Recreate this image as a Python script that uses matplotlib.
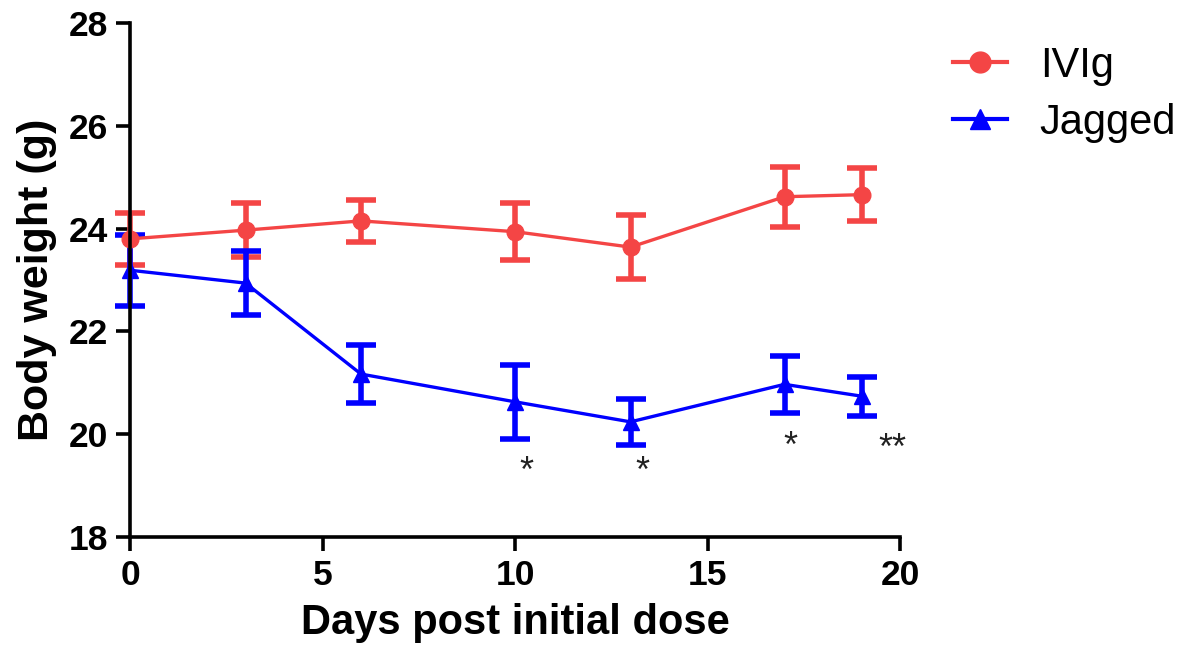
import matplotlib
matplotlib.use("Agg")
import matplotlib.pyplot as plt
from matplotlib.lines import Line2D

days = [0, 3, 6, 10, 13, 17, 19]
ivig_mean = [23.80, 23.97, 24.15, 23.94, 23.64, 24.62, 24.66]
ivig_err = [0.50, 0.52, 0.41, 0.55, 0.63, 0.58, 0.51]
jag_mean = [23.19, 22.94, 21.17, 20.63, 20.24, 20.97, 20.74]
jag_err = [0.69, 0.63, 0.57, 0.72, 0.45, 0.55, 0.38]

sig_x = [10.3, 13.3, 17.15, 19.8]
sig_y = [19.44, 19.44, 19.93, 19.89]
sig_text = ["*", "*", "*", "**"]

red = "#F44545"
blue = "#0000FF"
plt.rcParams['font.family'] = ['Liberation Sans', 'DejaVu Sans']

fig = plt.figure(figsize=(11.79, 6.57), dpi=100)
ax = fig.add_axes([130/1179, 1-537/657, 770/1179, 514/657])

ax.errorbar(days, ivig_mean, yerr=ivig_err, color=red, marker='o', markersize=12,
            linewidth=2.4, elinewidth=4, capsize=11, capthick=4, clip_on=False)
ax.errorbar(days, jag_mean, yerr=jag_err, color=blue, marker='^', markersize=12,
            linewidth=2.4, elinewidth=4, capsize=11, capthick=4, clip_on=False)

for x, y, t in zip(sig_x, sig_y, sig_text):
    ax.annotate(t, (x, y), xytext=(0, -7), textcoords='offset points',
                ha='center', va='center', fontsize=26, color='#222222')

ax.set_xlim(0, 20)
ax.set_ylim(18, 28)
ax.set_xticks([0, 5, 10, 15, 20])
ax.set_yticks([18, 20, 22, 24, 26, 28])
for s in ['top', 'right']:
    ax.spines[s].set_visible(False)
for s in ['left', 'bottom']:
    ax.spines[s].set_linewidth(2.6)
ax.tick_params(width=2.6, length=10, labelsize=25.5, pad=6)
for lab in ax.get_xticklabels() + ax.get_yticklabels():
    lab.set_fontweight('bold')

ax.set_xlabel('Days post initial dose', fontsize=30, fontweight='bold', labelpad=8)
ax.set_ylabel('Body weight (g)', fontsize=31, fontweight='bold', labelpad=8)

handles = [
    Line2D([], [], color=red, marker='o', markersize=15, linewidth=3),
    Line2D([], [], color=blue, marker='^', markersize=15, linewidth=3),
]
fig.legend(handles, ['IVIg', 'Jagged'], loc='upper left',
           bbox_to_anchor=(953/1179, 1-46/657), frameon=False, borderpad=0,
           borderaxespad=0, fontsize=30, handlelength=1.3, handletextpad=0.78,
           labelspacing=0.4)

fig.savefig('out.png', dpi=100)
